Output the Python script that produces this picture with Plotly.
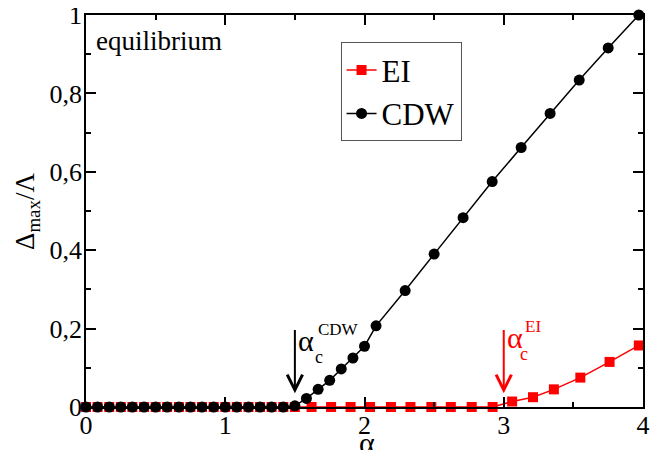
import plotly.graph_objects as go

# ---------------- data ----------------
low_x = [0.0, 0.083, 0.167, 0.25, 0.333, 0.417, 0.5, 0.583, 0.667, 0.75,
         0.833, 0.917, 1.0, 1.083, 1.167, 1.25, 1.333, 1.417, 1.5]

cdw_x = low_x + [1.583, 1.667, 1.75, 1.833, 1.917, 2.0, 2.083, 2.292, 2.5,
                 2.708, 2.917, 3.125, 3.333, 3.542, 3.75, 3.97]
cdw_y = [0.0] * 18 + [0.003] + [0.022, 0.045, 0.068, 0.097, 0.125, 0.155, 0.207,
                                0.297, 0.39, 0.483, 0.575, 0.662, 0.749, 0.834,
                                0.916, 1.0]

ei_x = low_x + [1.62, 1.76, 1.90, 2.04, 2.19, 2.33, 2.48, 2.62, 2.77, 2.92,
                3.06, 3.21, 3.36, 3.55, 3.76, 3.97]
ei_y = [0.0] * 19 + [0.0] * 10 + [0.014, 0.025, 0.045, 0.075, 0.115, 0.157]

alpha_c_cdw = 1.5
alpha_c_ei = 3.0

x_ticks = [0, 1, 2, 3, 4]
y_ticks = [0, 0.2, 0.4, 0.6, 0.8, 1.0]

FONT = "Liberation Serif"
RED = "#ff0000"

fig = go.Figure()
fig.add_trace(go.Scatter(
    x=ei_x, y=ei_y, mode="lines+markers", name="EI",
    line=dict(color=RED, width=1.5),
    marker=dict(symbol="square", size=10, color=RED),
))
fig.add_trace(go.Scatter(
    x=cdw_x, y=cdw_y, mode="lines+markers", name="CDW",
    line=dict(color="black", width=1.5),
    marker=dict(symbol="circle", size=11, color="black"),
))

annotations = [
    dict(text="equilibrium", xref="paper", yref="paper", x=0.014, y=0.934,
         xanchor="left", yanchor="middle", showarrow=False,
         font=dict(size=27, color="black", family=FONT)),
    # axis titles
    dict(text="α", xref="paper", yref="paper", x=0.505, y=-0.09,
         xanchor="center", yanchor="middle", showarrow=False,
         font=dict(size=30, color="black", family=FONT)),
    dict(text="Δ<sub>max</sub>/Λ", xref="paper", yref="paper", x=-0.106, y=0.5,
         xanchor="center", yanchor="middle", showarrow=False, textangle=-90,
         font=dict(size=27, color="black", family=FONT)),
    # CDW critical arrow
    dict(x=alpha_c_cdw, y=0.035, ax=alpha_c_cdw, ay=0.2, xref="x", yref="y",
         axref="x", ayref="y", text="", showarrow=True, arrowhead=5,
         arrowsize=1.5, arrowwidth=2, arrowcolor="black", standoff=0),
    dict(text="α", x=alpha_c_cdw + 0.08, y=0.17, xref="x", yref="y",
         showarrow=False, font=dict(size=30, color="black", family=FONT)),
    dict(text="CDW", x=alpha_c_cdw + 0.31, y=0.198, xref="x", yref="y",
         showarrow=False, font=dict(size=17, color="black", family=FONT)),
    dict(text="c", x=alpha_c_cdw + 0.17, y=0.128, xref="x", yref="y",
         showarrow=False, font=dict(size=18, color="black", family=FONT)),
    # EI critical arrow
    dict(x=alpha_c_ei, y=0.035, ax=alpha_c_ei, ay=0.2, xref="x", yref="y",
         axref="x", ayref="y", text="", showarrow=True, arrowhead=5,
         arrowsize=1.5, arrowwidth=2, arrowcolor=RED, standoff=0),
    dict(text="α", x=alpha_c_ei + 0.08, y=0.178, xref="x", yref="y",
         showarrow=False, font=dict(size=30, color=RED, family=FONT)),
    dict(text="EI", x=alpha_c_ei + 0.21, y=0.205, xref="x", yref="y",
         showarrow=False, font=dict(size=17, color=RED, family=FONT)),
    dict(text="c", x=alpha_c_ei + 0.145, y=0.136, xref="x", yref="y",
         showarrow=False, font=dict(size=18, color=RED, family=FONT)),
]

axis_common = dict(
    showline=True, linecolor="black", linewidth=1.5, mirror="ticks",
    ticks="inside", ticklen=10, tickwidth=1.5, tickcolor="black",
    showgrid=False, zeroline=False, automargin=False,
    ticklabeloverflow="allow",
    tickfont=dict(size=26, color="black", family=FONT),
)

fig.update_layout(
    width=664, height=450,
    margin=dict(l=78, r=29, t=7, b=51),
    paper_bgcolor="white", plot_bgcolor="white",
    separators=",.",
    font=dict(family=FONT, color="black"),
    showlegend=True,
    legend=dict(x=0.457, y=0.93, xanchor="left", yanchor="top",
                bordercolor="#555555", borderwidth=1, bgcolor="white",
                font=dict(size=31, family=FONT, color="black"),
                tracegroupgap=0, itemwidth=30),
    annotations=annotations,
)
fig.update_xaxes(
    range=[0, 4], tickvals=x_ticks, **axis_common, ticklabelstandoff=-6,
    minor=dict(dtick=0.5, ticks="inside", ticklen=5, tickwidth=1.5, tickcolor="black"),
)
fig.update_yaxes(
    range=[0, 1], tickvals=y_ticks, **axis_common, ticklabelstandoff=-3,
    minor=dict(dtick=0.1, ticks="inside", ticklen=5, tickwidth=1.5, tickcolor="black"),
)
fig.update_traces(cliponaxis=False)

fig.write_html("out.html")
